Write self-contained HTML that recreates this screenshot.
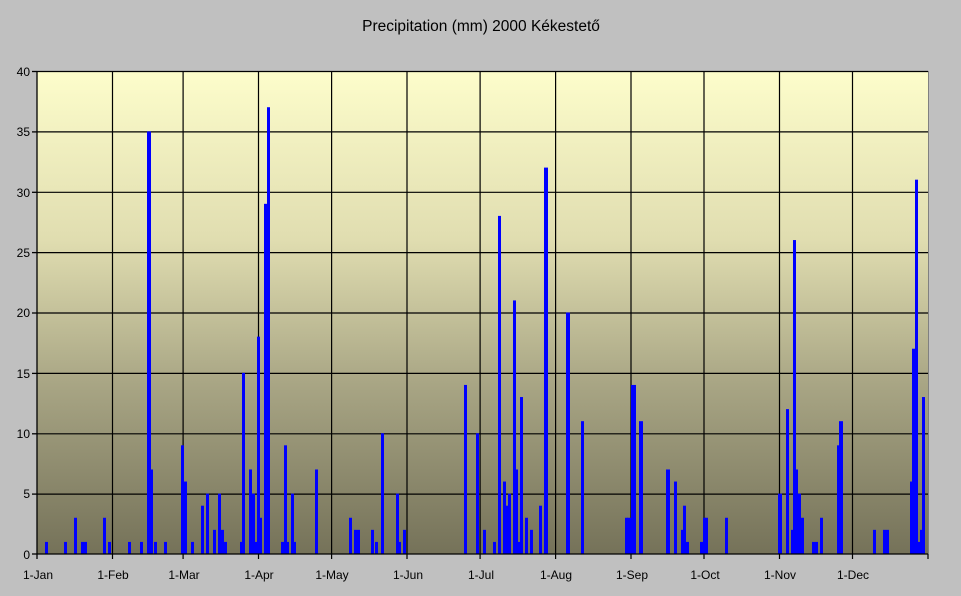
<!DOCTYPE html>
<html><head><meta charset="utf-8"><style>
html,body{margin:0;padding:0;background:#c0c0c0;}
svg{display:block;font-family:"Liberation Sans",sans-serif;}
</style></head><body>
<svg width="961" height="596" viewBox="0 0 961 596" xmlns="http://www.w3.org/2000/svg">
<defs><linearGradient id="bg" x1="0" y1="0" x2="0" y2="1">
<stop offset="0" stop-color="#fdfdcb"/><stop offset="0.35" stop-color="#e0ddb0"/><stop offset="0.65" stop-color="#a8a584"/><stop offset="1" stop-color="#757259"/></linearGradient></defs>
<rect width="961" height="596" fill="#c0c0c0"/>
<text x="481" y="31" font-size="15.5" text-anchor="middle" fill="#000">Precipitation (mm) 2000 Kékestető</text>
<rect x="37" y="71" width="891" height="483" fill="url(#bg)"/>
<line x1="928.5" y1="71" x2="928.5" y2="554" stroke="#808080" stroke-width="1"/>
<g stroke="#000" stroke-width="1.2">
<line x1="37" y1="71.5" x2="928" y2="71.5"/>
<line x1="37" y1="131.9" x2="928" y2="131.9"/>
<line x1="37" y1="192.3" x2="928" y2="192.3"/>
<line x1="37" y1="252.6" x2="928" y2="252.6"/>
<line x1="37" y1="313" x2="928" y2="313"/>
<line x1="37" y1="373.4" x2="928" y2="373.4"/>
<line x1="37" y1="433.8" x2="928" y2="433.8"/>
<line x1="37" y1="494.1" x2="928" y2="494.1"/>
<line x1="112.5" y1="71" x2="112.5" y2="559"/>
<line x1="183.1" y1="71" x2="183.1" y2="559"/>
<line x1="258.5" y1="71" x2="258.5" y2="559"/>
<line x1="331.6" y1="71" x2="331.6" y2="559"/>
<line x1="407" y1="71" x2="407" y2="559"/>
<line x1="480.1" y1="71" x2="480.1" y2="559"/>
<line x1="555.6" y1="71" x2="555.6" y2="559"/>
<line x1="631" y1="71" x2="631" y2="559"/>
<line x1="704" y1="71" x2="704" y2="559"/>
<line x1="779.5" y1="71" x2="779.5" y2="559"/>
<line x1="852.5" y1="71" x2="852.5" y2="559"/>
<line x1="928" y1="554" x2="928" y2="559"/>
</g>
<g transform="translate(0,554) scale(1,-12.075)" fill="#0000ff">
<rect x="45" y="0" width="3" height="1"/>
<rect x="64" y="0" width="3" height="1"/>
<rect x="74" y="0" width="3" height="3"/>
<rect x="81" y="0" width="3" height="1"/>
<rect x="84" y="0" width="3" height="1"/>
<rect x="103" y="0" width="3" height="3"/>
<rect x="108" y="0" width="3" height="1"/>
<rect x="128" y="0" width="3" height="1"/>
<rect x="140" y="0" width="3" height="1"/>
<rect x="147" y="0" width="4" height="35"/>
<rect x="150" y="0" width="3" height="7"/>
<rect x="154" y="0" width="3" height="1"/>
<rect x="164" y="0" width="3" height="1"/>
<rect x="181" y="0" width="3" height="9"/>
<rect x="184" y="0" width="3" height="6"/>
<rect x="191" y="0" width="3" height="1"/>
<rect x="201" y="0" width="3" height="4"/>
<rect x="206" y="0" width="3" height="5"/>
<rect x="213" y="0" width="3" height="2"/>
<rect x="218" y="0" width="3" height="5"/>
<rect x="221" y="0" width="3" height="2"/>
<rect x="223" y="0" width="4" height="1"/>
<rect x="240" y="0" width="3" height="1"/>
<rect x="242" y="0" width="3" height="15"/>
<rect x="249" y="0" width="3" height="7"/>
<rect x="252" y="0" width="3" height="5"/>
<rect x="254" y="0" width="3" height="1"/>
<rect x="257" y="0" width="3" height="18"/>
<rect x="259" y="0" width="3" height="3"/>
<rect x="264" y="0" width="3" height="29"/>
<rect x="267" y="0" width="3" height="37"/>
<rect x="281" y="0" width="3" height="1"/>
<rect x="284" y="0" width="3" height="9"/>
<rect x="286" y="0" width="3" height="1"/>
<rect x="291" y="0" width="3" height="5"/>
<rect x="293" y="0" width="3" height="1"/>
<rect x="315" y="0" width="3" height="7"/>
<rect x="349" y="0" width="3" height="3"/>
<rect x="354" y="0" width="3" height="2"/>
<rect x="357" y="0" width="3" height="2"/>
<rect x="371" y="0" width="3" height="2"/>
<rect x="375" y="0" width="3" height="1"/>
<rect x="381" y="0" width="3" height="10"/>
<rect x="396" y="0" width="3" height="5"/>
<rect x="398" y="0" width="3" height="1"/>
<rect x="403" y="0" width="3" height="2"/>
<rect x="464" y="0" width="3" height="14"/>
<rect x="476" y="0" width="3" height="10"/>
<rect x="483" y="0" width="3" height="2"/>
<rect x="493" y="0" width="3" height="1"/>
<rect x="498" y="0" width="3" height="28"/>
<rect x="503" y="0" width="3" height="6"/>
<rect x="505" y="0" width="3" height="4"/>
<rect x="508" y="0" width="3" height="5"/>
<rect x="513" y="0" width="3" height="21"/>
<rect x="515" y="0" width="3" height="7"/>
<rect x="518" y="0" width="2" height="1"/>
<rect x="520" y="0" width="3" height="13"/>
<rect x="525" y="0" width="3" height="3"/>
<rect x="530" y="0" width="3" height="2"/>
<rect x="539" y="0" width="3" height="4"/>
<rect x="544" y="0" width="4" height="32"/>
<rect x="566" y="0" width="4" height="20"/>
<rect x="581" y="0" width="3" height="11"/>
<rect x="625" y="0" width="3" height="3"/>
<rect x="627" y="0" width="4" height="3"/>
<rect x="631" y="0" width="5" height="14"/>
<rect x="639" y="0" width="4" height="11"/>
<rect x="666" y="0" width="4" height="7"/>
<rect x="674" y="0" width="3" height="6"/>
<rect x="681" y="0" width="3" height="2"/>
<rect x="683" y="0" width="3" height="4"/>
<rect x="686" y="0" width="3" height="1"/>
<rect x="700" y="0" width="3" height="1"/>
<rect x="703" y="0" width="3" height="3"/>
<rect x="705" y="0" width="3" height="3"/>
<rect x="725" y="0" width="3" height="3"/>
<rect x="778" y="0" width="4" height="5"/>
<rect x="786" y="0" width="3" height="12"/>
<rect x="791" y="0" width="3" height="2"/>
<rect x="793" y="0" width="3" height="26"/>
<rect x="795" y="0" width="3" height="7"/>
<rect x="798" y="0" width="3" height="5"/>
<rect x="800" y="0" width="4" height="3"/>
<rect x="812" y="0" width="3" height="1"/>
<rect x="815" y="0" width="3" height="1"/>
<rect x="820" y="0" width="3" height="3"/>
<rect x="837" y="0" width="3" height="9"/>
<rect x="839" y="0" width="4" height="11"/>
<rect x="873" y="0" width="3" height="2"/>
<rect x="883" y="0" width="3" height="2"/>
<rect x="886" y="0" width="3" height="2"/>
<rect x="910" y="0" width="3" height="6"/>
<rect x="912" y="0" width="3" height="17"/>
<rect x="915" y="0" width="3" height="31"/>
<rect x="917" y="0" width="3" height="1"/>
<rect x="920" y="0" width="2" height="2"/>
<rect x="922" y="0" width="3" height="13"/>
</g>
<g stroke="#000" stroke-width="1.3">
<line x1="37" y1="71" x2="37" y2="554"/>
<line x1="37" y1="554" x2="928" y2="554"/>
<line x1="37" y1="554" x2="37" y2="559"/>
<line x1="32" y1="71.5" x2="37" y2="71.5"/>
<line x1="32" y1="131.9" x2="37" y2="131.9"/>
<line x1="32" y1="192.3" x2="37" y2="192.3"/>
<line x1="32" y1="252.6" x2="37" y2="252.6"/>
<line x1="32" y1="313" x2="37" y2="313"/>
<line x1="32" y1="373.4" x2="37" y2="373.4"/>
<line x1="32" y1="433.8" x2="37" y2="433.8"/>
<line x1="32" y1="494.1" x2="37" y2="494.1"/>
<line x1="32" y1="554" x2="37" y2="554"/>
</g>
<g font-size="12" fill="#000" text-anchor="end">
<text x="30" y="76">40</text>
<text x="30" y="136">35</text>
<text x="30" y="197">30</text>
<text x="30" y="257">25</text>
<text x="30" y="317">20</text>
<text x="30" y="378">15</text>
<text x="30" y="438">10</text>
<text x="30" y="498">5</text>
<text x="30" y="559">0</text>
</g>
<g font-size="12" fill="#000" text-anchor="middle">
<text x="38" y="579">1-Jan</text>
<text x="113" y="579">1-Feb</text>
<text x="184" y="579">1-Mar</text>
<text x="259" y="579">1-Apr</text>
<text x="332" y="579">1-May</text>
<text x="408" y="579">1-Jun</text>
<text x="481" y="579">1-Jul</text>
<text x="556" y="579">1-Aug</text>
<text x="632" y="579">1-Sep</text>
<text x="705" y="579">1-Oct</text>
<text x="780" y="579">1-Nov</text>
<text x="853" y="579">1-Dec</text>
</g>
</svg>
</body></html>
